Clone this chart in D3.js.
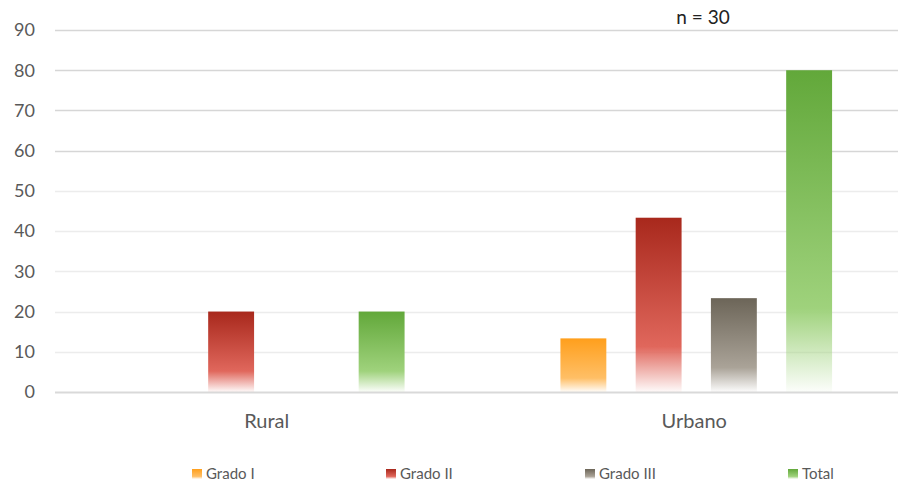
<!DOCTYPE html>
<html>
<head>
<meta charset="utf-8">
<script src="https://cdn.jsdelivr.net/npm/d3@7"></script>
<style>
  body { margin: 0; background: #fff; }
  svg { display: block; font-family: Lato, "Open Sans", sans-serif; }
</style>
</head>
<body>
<svg id="chart" width="898" height="486"></svg>
<script>
// categorias y series
var categories = ["Rural", "Urbano"];
var series = ["Grado I", "Grado II", "Grado III", "Total"];
var valuesRural = [0, 20, 0, 20];
var valuesUrbano = [13.33, 43.33, 23.33, 80];
var yTicks = [0, 10, 20, 30, 40, 50, 60, 70, 80, 90];
var note = "n = 30";

// colores: arriba, medio
var colors = [
  ["#ff9f1c", "#ffbf66"],
  ["#a8281c", "#e0675c"],
  ["#6c6558", "#aaa398"],
  ["#62a83a", "#9fd27c"]
];

var svg = d3.select("#chart"),
    width = +svg.attr("width"),
    height = +svg.attr("height");

var x = d3.scaleBand().domain(categories).range([55, 910]);
var xs = d3.scaleBand().domain(series).range([0, 301]).paddingInner(0.39).paddingOuter(0.195);
var y = d3.scaleLinear().domain([0, 90]).range([392, 30]);

var defs = svg.append("defs");
colors.forEach(function (c, i) {
  var g = defs.append("linearGradient")
      .attr("id", "grad" + i)
      .attr("x1", 0).attr("y1", 0).attr("x2", 0).attr("y2", 1);
  g.append("stop").attr("offset", "0").attr("stop-color", c[0]);
  g.append("stop").attr("offset", "0.74").attr("stop-color", c[1]);
  g.append("stop").attr("offset", "1").attr("stop-color", c[1]).attr("stop-opacity", 0.03);
});

// lineas de la grilla
svg.append("g").selectAll("line")
  .data(yTicks)
  .enter().append("line")
    .attr("x1", 55).attr("x2", width)
    .attr("y1", function (d) { return Math.round(y(d)) + 0.5; })
    .attr("y2", function (d) { return Math.round(y(d)) + 0.5; })
    .attr("stroke", function (d) { return d == 0 ? "#d9d9d9" : (d >= 60 ? "#d6d6d6" : "#ececec"); })
    .attr("stroke-width", function (d) { return d == 0 ? 2 : 1.3; });

svg.append("g").selectAll("text")
  .data(yTicks)
  .enter().append("text")
    .attr("x", 35).attr("y", function (d) { return y(d); })
    .attr("dy", "0.35em")
    .attr("text-anchor", "end")
    .attr("fill", "#595959")
    .attr("font-size", 18)
    .text(function (d) { return d; });

var data = [valuesRural, valuesUrbano];

var groups = svg.append("g").selectAll("g")
  .data(categories)
  .enter().append("g")
    .attr("transform", function (d) {
      return "translate(" + (x(d) + x.bandwidth() / 2 - 150.5) + ",0)";
    });

groups.selectAll("rect")
  .data(function (d, i) { return data[i].map(function (v, j) { return { s: series[j], v: v, j: j }; }); })
  .enter().filter(function (d) { return d.v > 0; }).append("rect")
    .attr("x", function (d) { return xs(d.s); })
    .attr("width", xs.bandwidth())
    .attr("y", function (d) { return y(d.v); })
    .attr("height", function (d) { return y(0) - y(d.v); })
    .attr("fill", function (d) { return "url(#grad" + d.j + ")"; });

svg.append("g").selectAll("text")
  .data(categories)
  .enter().append("text")
    .attr("x", function (d) { return x(d) + x.bandwidth() / 2 - 2; })
    .attr("y", 428)
    .attr("text-anchor", "middle")
    .attr("fill", "#595959")
    .attr("font-size", 20)
    .text(function (d) { return d; });

svg.append("text")
  .attr("x", 703).attr("y", 24)
  .attr("text-anchor", "middle")
  .attr("fill", "#222")
  .attr("font-size", 19)
  .text(note);

// leyenda
var legX = [192, 386, 585, 788];
var leg = svg.append("g").selectAll("g")
  .data(series)
  .enter().append("g")
    .attr("transform", function (d, i) { return "translate(" + legX[i] + ",469)"; });

leg.append("rect")
  .attr("width", 10).attr("height", 10)
  .attr("fill", function (d, i) { return "url(#grad" + i + ")"; });

leg.append("text")
  .attr("x", 14).attr("y", 5)
  .attr("dy", "0.35em")
  .attr("fill", "#595959")
  .attr("font-size", 15)
  .text(function (d) { return d; });
</script>
</body>
</html>
